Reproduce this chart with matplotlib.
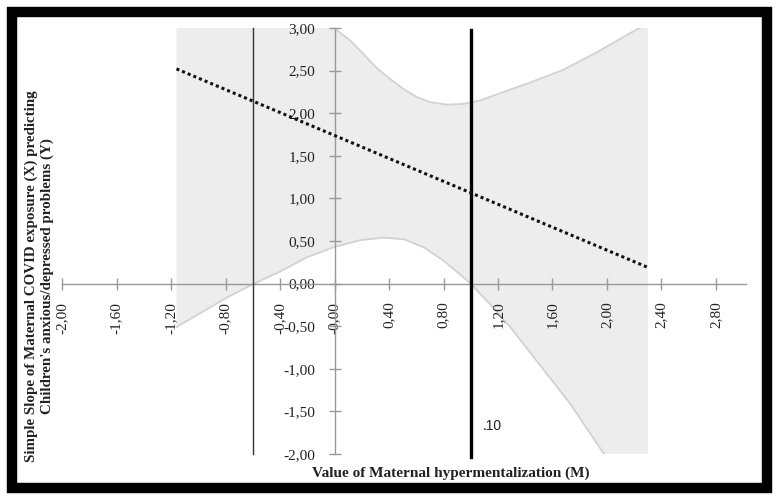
import numpy as np
import matplotlib.pyplot as plt
from matplotlib.patches import Rectangle

# values
upper_x = [-1.16, -0.80, -0.40, -0.20, 0.02, 0.117, 0.215, 0.31, 0.41, 0.51, 0.605, 0.70,
           0.825, 0.95, 1.07, 1.19, 1.435, 1.68, 1.92, 2.17, 2.30]
upper_y = [5.40, 4.50, 3.70, 3.30, 2.97, 2.85, 2.69, 2.53, 2.40, 2.28, 2.19, 2.13,
           2.10, 2.11, 2.15, 2.22, 2.36, 2.51, 2.71, 2.94, 3.05]
lower_x = [-1.16, -0.957, -0.785, -0.59, -0.395, -0.20, 0.00, 0.19, 0.36, 0.51, 0.655, 0.80,
           0.92, 1.00, 1.14, 1.29, 1.48, 1.73, 1.97, 2.30]
lower_y = [-0.51, -0.32, -0.16, 0.00, 0.145, 0.31, 0.43, 0.51, 0.54, 0.52, 0.425, 0.27,
           0.11, 0.00, -0.24, -0.51, -0.90, -1.41, -1.98, -2.75]

slope_x = [-1.16, 2.30]
slope_y = [2.52, 0.19]

jn_low = -0.60
jn_high = 1.00
jn_label = ".10"

x_ticks = np.round(np.arange(-2.0, 2.81, 0.4), 2)
y_ticks = np.round(np.arange(-2.0, 3.01, 0.5), 2)

serif = ['Liberation Serif', 'DejaVu Serif']

fig = plt.figure(figsize=(7.79, 4.99), dpi=100)
ax = fig.add_axes([0.0796, 0.0902, 0.878, 0.8537])
ax.set_xlim(-2.0, 3.02)
ax.set_ylim(-2.0, 3.0)

# confidence band
poly_x = upper_x + lower_x[::-1]
poly_y = upper_y + lower_y[::-1]
ax.fill(poly_x, poly_y, color='#ededed', lw=0, zorder=1)
ax.plot(upper_x, upper_y, color='#d2d2d2', lw=1.3, zorder=1.5)
ax.plot(lower_x, lower_y, color='#d2d2d2', lw=1.3, zorder=1.5)

# simple slope
ax.plot(slope_x, slope_y, color='#111111', lw=2.2, linestyle=(0, (1, 1)), zorder=4)

# Johnson-Neyman lines
ax.plot([jn_low, jn_low], [3.0, -2.0], color='#333333', lw=1.0, zorder=3, clip_on=False)
ax.plot([jn_high, jn_high], [2.98, -2.04], color='#000000', lw=2.4, zorder=3, clip_on=False)
ax.text(1.09, -1.67, jn_label, fontsize=10, family=['Liberation Sans', 'DejaVu Sans'],
        ha='left', va='center', color='#222222')

# axes through zero
for s in ['top', 'right']:
    ax.spines[s].set_visible(False)
ax.spines['left'].set_position(('data', 0))
ax.spines['bottom'].set_position(('data', 0))
for s in ['left', 'bottom']:
    ax.spines[s].set_color('#999999')
    ax.spines[s].set_linewidth(1.0)
    ax.spines[s].set_zorder(2)

ax.set_xticks(x_ticks)
ax.set_xticklabels([f"{v:.2f}".replace('.', ',') for v in x_ticks], rotation=90,
                   family=serif, fontsize=11, color='#222222')
ax.set_yticks(y_ticks)
ax.set_yticklabels([f"{v:.2f}".replace('.', ',') for v in y_ticks],
                   family=serif, fontsize=11, color='#222222')
ax.tick_params(axis='both', direction='inout', length=8, width=1.0, color='#999999')
ax.tick_params(axis='x', pad=9)
ax.tick_params(axis='y', pad=10)
ax.patch.set_alpha(0)

fig.text(0.0507, 0.447,
         "Simple Slope of Maternal COVID exposure (X) predicting\nChildren's anxious/depressed problems (Y)",
         rotation=90, ha='center', va='center', multialignment='center',
         family=serif, fontweight='bold', fontsize=10.8, color='#222222', linespacing=1.2)
fig.text(0.578, 0.052, "Value of Maternal hypermentalization (M)",
         ha='center', va='center', family=serif, fontweight='bold', fontsize=11, color='#222222')

# black frame
fig.patches.append(Rectangle((0.0154, 0.022), 0.9692, 0.954, transform=fig.transFigure,
                             fill=False, edgecolor='black', linewidth=7.5, zorder=10))

fig.savefig('out.png', dpi=100)
